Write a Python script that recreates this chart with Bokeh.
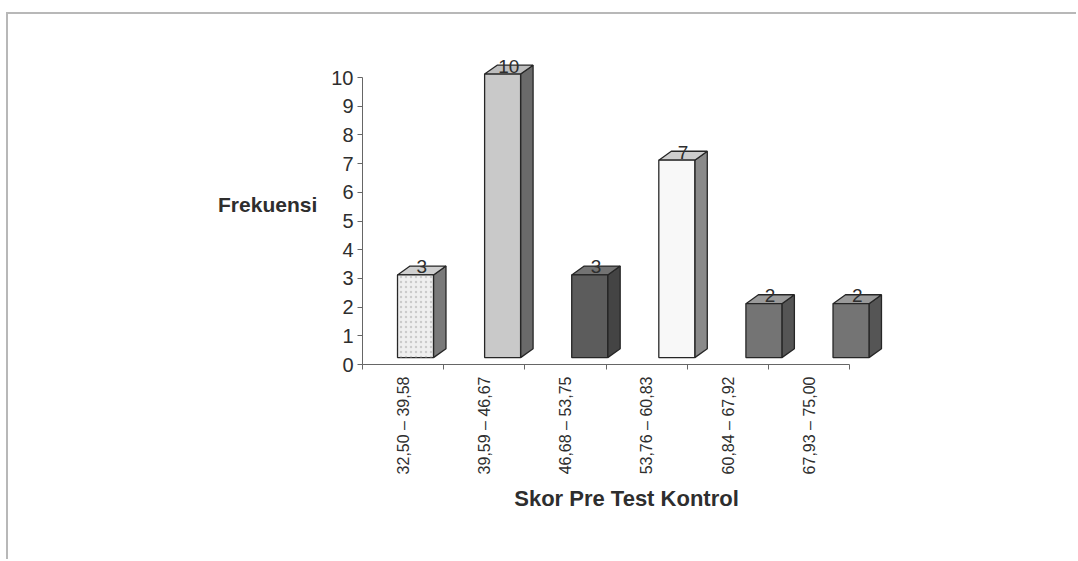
import math
from bokeh.plotting import figure
from bokeh.models import Range1d, FixedTicker, ColumnDataSource
from bokeh.embed import file_html
from bokeh.resources import INLINE
from bokeh.core.properties import value

# ---- data ----
categories = ["32,50 – 39,58", "39,59 – 46,67", "46,68 – 53,75",
              "53,76 – 60,83", "60,84 – 67,92", "67,93 – 75,00"]
frekuensi = [3, 10, 3, 7, 2, 2]
y_ticks = [0, 1, 2, 3, 4, 5, 6, 7, 8, 9, 10]

# ---- styles ----
front_colors = ["#efefef", "#c9c9c9", "#5c5c5c", "#f8f8f8", "#747474", "#747474"]
side_colors = ["#7a7a7a", "#6a6a6a", "#444444", "#8a8a8a", "#555555", "#555555"]
top_colors = ["#cfcfcf", "#bdbdbd", "#737373", "#cdcdcd", "#9a9a9a", "#9a9a9a"]
font = "Liberation Sans"
text_col = "#2e2e2e"
edge_col = "#262626"

bar_w = 0.413      # front face width (perspective units)
dx = 0.1435        # depth offset, perspective units
dy = 0.31          # depth offset, value units
base = 0.24        # floor offset of the front face
lift = 0.12

p = figure(frame_width=528, frame_height=321,
           min_border_left=354, min_border_right=186,
           min_border_top=29, min_border_bottom=195,
           x_range=Range1d(0, 6.5), y_range=Range1d(0, 321 / 28.7),
           output_backend="svg", toolbar_location=None,
           background_fill_color="white", border_fill_color="white")
p.styles = {"margin-left": "6px", "margin-top": "12px",
            "border-top": "2px solid #b8b8b8", "border-left": "2px solid #b8b8b8"}
p.outline_line_color = None
p.grid.visible = False
p.extra_x_ranges = {"persp": Range1d(-0.6085, 5.4535)}

idx = list(range(len(frekuensi)))
lefts = [i - bar_w / 2 for i in idx]
rights = [i + bar_w / 2 for i in idx]
tops = [v + lift for v in frekuensi]
bottoms = [base] * len(idx)

side_xs = [[r, r + dx, r + dx, r] for r in rights]
side_ys = [[base, base + dy, t + dy, t] for t in tops]
top_xs = [[l, r, r + dx, l + dx] for l, r in zip(lefts, rights)]
top_ys = [[t, t, t + dy, t + dy] for t in tops]

p.patches(xs=side_xs, ys=side_ys, fill_color=side_colors, line_color=edge_col,
          line_width=1.3, x_range_name="persp")
p.patches(xs=top_xs, ys=top_ys, fill_color=top_colors, line_color=edge_col,
          line_width=1.3, x_range_name="persp")
p.quad(left=lefts, right=rights, bottom=bottoms, top=tops,
       fill_color=front_colors, line_color=edge_col, line_width=1.3,
       x_range_name="persp")
# subtle dotted texture on the first bar
p.quad(left=lefts[:1], right=rights[:1], bottom=bottoms[:1], top=tops[:1],
       fill_alpha=0, line_color=None, hatch_pattern="dot", hatch_color="#b0b0b0",
       hatch_scale=5, hatch_alpha=0.6, x_range_name="persp")

lbl = ColumnDataSource(dict(x=[i + dx / 2 for i in idx], y=[t + dy - 0.03 for t in tops],
                            text=[str(v) for v in frekuensi]))
p.text(x="x", y="y", text="text", source=lbl, x_range_name="persp",
       text_align="center", text_baseline="alphabetic",
       text_font=value(font), text_font_size="19px", text_color=text_col)

# ---- y axis ----
ya = p.yaxis[0]
ya.ticker = FixedTicker(ticks=y_ticks)
ya.bounds = (0, 10)
ya.axis_line_color = "#666666"
ya.major_tick_line_color = "#666666"
ya.major_tick_out = 5
ya.major_tick_in = 0
ya.minor_tick_line_color = None
ya.major_label_standoff = 4
ya.major_label_text_font = font
ya.major_label_text_font_size = "20px"
ya.major_label_text_color = text_col
ya.axis_label = "Frekuensi"
ya.axis_label_orientation = "horizontal"
ya.axis_label_standoff = 11
ya.axis_label_text_font = font
ya.axis_label_text_font_size = "21px"
ya.axis_label_text_font_style = "bold"
ya.axis_label_text_color = text_col

# ---- x axis ----
xa = p.xaxis[0]
centers = [i + 0.5 for i in idx]
xa.ticker = FixedTicker(ticks=centers, minor_ticks=[0, 1, 2, 3, 4, 5, 6])
xa.bounds = (0, 6)
xa.major_label_overrides = {c: lab for c, lab in zip(centers, categories)}
xa.major_label_orientation = math.pi / 2
xa.axis_line_color = "#666666"
xa.major_tick_line_color = None
xa.major_tick_out = 0
xa.major_tick_in = 0
xa.minor_tick_line_color = "#666666"
xa.minor_tick_out = 5
xa.minor_tick_in = 0
xa.major_label_standoff = 7
xa.major_label_text_font = font
xa.major_label_text_font_size = "16px"
xa.major_label_text_color = text_col
xa.axis_label = "Skor Pre Test Kontrol"
xa.axis_label_standoff = 9
xa.axis_label_text_font = font
xa.axis_label_text_font_size = "22px"
xa.axis_label_text_font_style = "bold"
xa.axis_label_text_color = text_col

open("out.html", "w").write(file_html(p, INLINE))
